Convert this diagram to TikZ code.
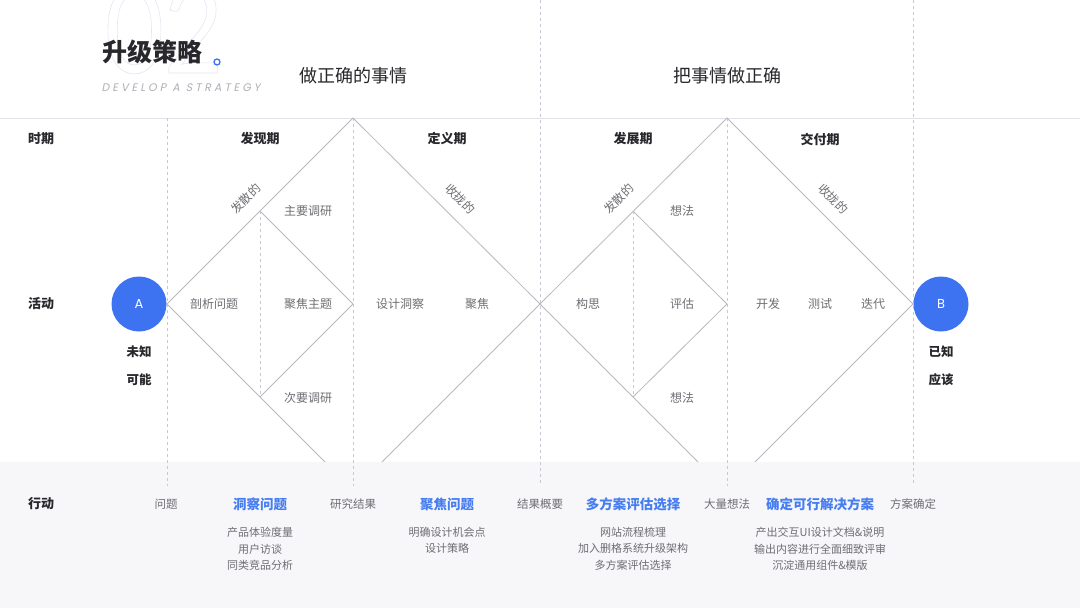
\documentclass[tikz,border=0pt]{standalone}
\usepackage{fontspec}
\setmainfont{Noto Sans CJK SC}
\newfontfamily\enfont{Poppins}[FakeSlant=0.2,LetterSpace=28]
\newfontfamily\numfont{Poppins}
\newfontfamily\bignum{Lato}
\definecolor{blueA}{RGB}{61,115,241}
\definecolor{blueT}{RGB}{70,125,240}
\definecolor{lineG}{RGB}{185,185,192}
\definecolor{dashG}{RGB}{200,200,208}
\definecolor{txtG}{RGB}{110,110,115}
\definecolor{txtD}{RGB}{40,40,44}
\definecolor{bandG}{RGB}{247,247,250}
\definecolor{rule}{RGB}{226,226,232}
\tikzset{
  diag/.style={draw=lineG,line width=0.8pt},
  vdash/.style={draw=dashG,line width=0.8pt,dash pattern=on 3pt off 3pt},
  lbl/.style={font=\fontsize{12}{14}\selectfont,text=txtG,inner sep=1pt},
  phase/.style={font=\fontsize{13}{15}\selectfont\bfseries,text=txtD,inner sep=1pt},
  rowh/.style={font=\fontsize{13}{15}\selectfont\bfseries,text=txtD,inner sep=1pt},
  bigh/.style={font=\fontsize{18}{21}\selectfont,text=txtD,inner sep=1pt},
  act/.style={font=\fontsize{13.5}{16}\selectfont\bfseries,text=blueT,inner sep=1pt},
  outlbl/.style={font=\fontsize{11.5}{14}\selectfont,text=txtG,inner sep=1pt},
  sublbl/.style={font=\fontsize{11}{16.5}\selectfont,text=txtG,align=center,inner sep=1pt,anchor=north},
  endc/.style={circle,fill=blueA,minimum size=55pt,inner sep=0pt,text=white,font=\numfont\fontsize{13}{15}\selectfont},
  statelbl/.style={font=\fontsize{12.5}{15}\selectfont\bfseries,text=txtD,inner sep=1pt},
}
\begin{document}
\begin{tikzpicture}[x=1pt,y=-1pt]
\useasboundingbox (0,0) rectangle (1080,608);
\fill[white] (0,0) rectangle (1080,608);
% bottom band
\fill[bandG] (0,462) rectangle (1080,608);
% horizontal rule
\draw[rule,line width=0.8pt] (0,118) -- (1080,118);
% big faint outlined 02
\node[font=\bignum\fontsize{120}{120}\selectfont,inner sep=0pt,xscale=0.85] (num) at (164,30) {\special{pdf:code q 1 Tr 0.7 w 0.90 0.91 0.95 RG}02\special{pdf:code Q}};
% title
\node[font=\fontsize{25}{28}\selectfont\bfseries,text=txtD,inner sep=0pt] (title) at (152,52) {升级策略};
\node[circle,draw=blueA,line width=1.3pt,minimum size=6pt,inner sep=0pt] (dot) at (217,62) {};
\node[font=\enfont\fontsize{11}{12}\selectfont,text={rgb,255:red,175;green,175;blue,182},inner sep=0pt] (subt) at (181,88) {DEVELOP A STRATEGY};
% big headers
\node[bigh] (h1) at (353,76) {做正确的事情};
\node[bigh] (h2) at (727,76) {把事情做正确};
% dashed verticals
\coordinate (v1t) at (167,118); \coordinate (v1b) at (167,486);
\coordinate (v2t) at (353,118); \coordinate (v2b) at (353,486);
\coordinate (v3t) at (540,0);   \coordinate (v3b) at (540,486);
\coordinate (v4t) at (727,118); \coordinate (v4b) at (727,486);
\coordinate (v5t) at (913,0);   \coordinate (v5b) at (913,486);
\foreach \i in {1,...,5} {\draw[vdash] (v\i t) -- (v\i b);}
% diamond 1
\coordinate (L1) at (167,304); \coordinate (T1) at (353,118); \coordinate (R1) at (540,304);
\coordinate (B1l) at (325,462); \coordinate (B1r) at (382,462);
\coordinate (s1t) at (260,211); \coordinate (s1r) at (353,304); \coordinate (s1b) at (260,397);
\draw[diag] (B1l) -- (L1) -- (T1) -- (R1) -- (B1r);
\draw[diag] (s1t) -- (s1r) -- (s1b);
\draw[vdash] (s1t) -- (s1b);
% diamond 2
\coordinate (L2) at (540,304); \coordinate (T2) at (727,118); \coordinate (R2) at (913,304);
\coordinate (B2l) at (698,462); \coordinate (B2r) at (755,462);
\coordinate (s2t) at (633,211); \coordinate (s2r) at (727,304); \coordinate (s2b) at (633,397);
\draw[diag] (B2l) -- (L2) -- (T2) -- (R2) -- (B2r);
\draw[diag] (s2t) -- (s2r) -- (s2b);
\draw[vdash] (s2t) -- (s2b);
% row headers
\node[rowh] (rh1) at (41,139) {时期};
\node[rowh] (rh2) at (41,304) {活动};
\node[rowh] (rh3) at (41,504) {行动};
% phases
\node[phase] (p1) at (260,139) {发现期};
\node[phase] (p2) at (447,139) {定义期};
\node[phase] (p3) at (633,139) {发展期};
\node[phase] (p4) at (820,139) {交付期};
% rotated labels
\node[lbl,rotate=45] (d1) at (246,199) {发散的};
\node[lbl,rotate=-45] (c1) at (460,199) {收拢的};
\node[lbl,rotate=45] (d2) at (619,199) {发散的};
\node[lbl,rotate=-45] (c2) at (833,199) {收拢的};
% activity labels diamond 1
\node[lbl] (a1) at (308,211) {主要调研};
\node[lbl] (a2) at (214,304) {剖析问题};
\node[lbl] (a3) at (308,304) {聚焦主题};
\node[lbl] (a4) at (308,398) {次要调研};
\node[lbl] (a5) at (400,304) {设计洞察};
\node[lbl] (a6) at (477,304) {聚焦};
% activity labels diamond 2
\node[lbl] (b1) at (682,211) {想法};
\node[lbl] (b2) at (588,304) {构思};
\node[lbl] (b3) at (682,304) {评估};
\node[lbl] (b4) at (682,398) {想法};
\node[lbl] (b5) at (768,304) {开发};
\node[lbl] (b6) at (820,304) {测试};
\node[lbl] (b7) at (873,304) {迭代};
% end circles
\node[endc] (A) at (139,304) {A};
\node[endc] (B) at (941,304) {B};
\node[statelbl] (A1) at (139,352) {未知};
\node[statelbl] (A2) at (139,380) {可能};
\node[statelbl] (B1) at (941,352) {已知};
\node[statelbl] (B2) at (941,380) {应该};
% bottom row
\node[outlbl] (o1) at (166,504) {问题};
\node[act] (k1) at (260,504) {洞察问题};
\node[outlbl] (o2) at (353,504) {研究结果};
\node[act] (k2) at (447,504) {聚焦问题};
\node[outlbl] (o3) at (540,504) {结果概要};
\node[act] (k3) at (633,504) {多方案评估选择};
\node[outlbl] (o4) at (727,504) {大量想法};
\node[act] (k4) at (820,504) {确定可行解决方案};
\node[outlbl] (o5) at (913,504) {方案确定};
\node[sublbl] (t1) at (260,526) {产品体验度量\\用户访谈\\同类竞品分析};
\node[sublbl] (t2) at (447,526) {明确设计机会点\\设计策略};
\node[sublbl] (t3) at (633,526) {网站流程梳理\\加入删格系统升级架构\\多方案评估选择};
\node[sublbl] (t4) at (820,526) {产出交互UI设计文档\&说明\\输出内容进行全面细致评审\\沉淀通用组件\&模版};
\end{tikzpicture}
\end{document}
